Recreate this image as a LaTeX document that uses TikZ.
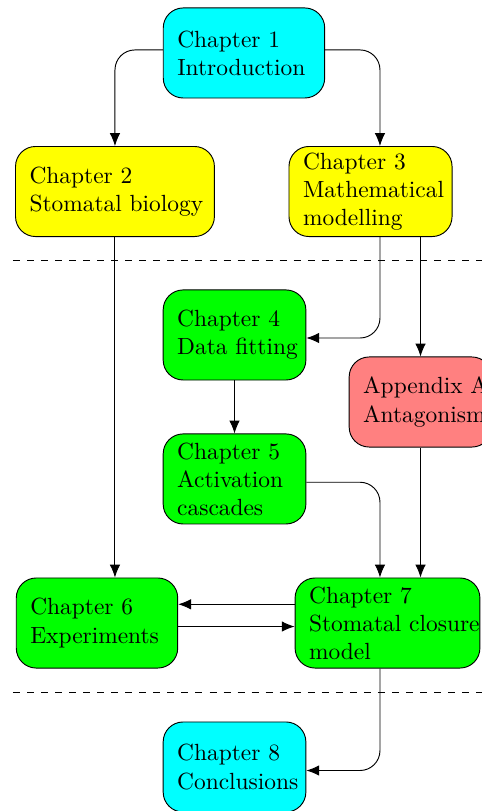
\documentclass[tikz,border=0pt]{standalone}
\usetikzlibrary{arrows.meta}
\definecolor{chapcyan}{RGB}{0,255,255}
\definecolor{chapyellow}{RGB}{255,255,0}
\definecolor{chapgreen}{RGB}{0,255,0}
\definecolor{chapred}{RGB}{255,128,128}
\begin{document}
\begin{tikzpicture}[
  chap/.style={draw, rounded corners=3mm, align=left, inner xsep=6pt, inner ysep=2pt, minimum height=38.5pt},
  arr/.style={-{Latex[length=5.5pt,width=4.5pt]}, rounded corners=3mm}]
\useasboundingbox (0,0) rectangle (7.24,-12.183);
\clip (0,0) rectangle (7.24,-12.183);
\coordinate (colB) at (5.708,0);
\coordinate (colC) at (6.317,0);
\node[chap, fill=chapcyan, text width=57pt] (ch1) at (3.665,-0.796) {Chapter 1\\Introduction};
\node[chap, fill=chapyellow, text width=73pt] (ch2) at (1.727,-2.877) {Chapter 2\\\mbox{Stomatal biology}};
\node[chap, fill=chapyellow, text width=57.7pt] (ch3) at (5.566,-2.877) {Chapter 3\\\mbox{Mathematical}\\modelling};
\node[chap, fill=chapgreen, text width=49pt] (ch4) at (3.523,-5.032) {Chapter 4\\\mbox{Data fitting}};
\node[chap, fill=chapred, text width=49pt] (appA) at (6.317,-6.039) {\mbox{Appendix A}\\\mbox{Antagonism}};
\node[chap, fill=chapgreen, text width=49pt] (ch5) at (3.523,-7.195) {Chapter 5\\\mbox{Activation}\\cascades};
\node[chap, fill=chapgreen, text width=57pt] (ch6) at (1.457,-9.359) {Chapter 6\\\mbox{Experiments}};
\node[chap, fill=chapgreen, text width=67pt] (ch7) at (5.821,-9.359) {Chapter 7\\\mbox{Stomatal closure}\\model};
\node[chap, fill=chapcyan, text width=49pt] (ch8) at (3.523,-11.522) {Chapter 8\\\mbox{Conclusions}};
% separators
\draw[dashed] (0.195,-3.913) -- (7.4,-3.913);
\draw[dashed] (0.195,-10.405) -- (7.4,-10.405);
% connections
\draw[arr] ([yshift=1.3pt]ch1.west) -| (ch2.north);
\draw[arr] ([yshift=1.3pt]ch1.east) -| (colB |- ch3.north);
\draw[arr] (colB |- ch3.south) |- ([yshift=-1.3pt]ch4.east);
\draw[arr] (colC |- ch3.south) -- (appA.north);
\draw[arr] (ch2.south) -- (ch2.south |- ch6.north);
\draw[arr] (ch4.south) -- (ch5.north);
\draw[arr] ([yshift=-1.4pt]ch5.east) -| (colB |- ch7.north);
\draw[arr] (appA.south) -- (appA.south |- ch7.north);
\draw[arr] ([yshift=8pt]ch7.west) -- ([yshift=8pt]ch6.east);
\draw[arr] ([yshift=-1.5pt]ch6.east) -- ([yshift=-1.5pt]ch7.west);
\draw[arr] (colB |- ch7.south) |- ([yshift=-1.5pt]ch8.east);
\end{tikzpicture}
\end{document}
